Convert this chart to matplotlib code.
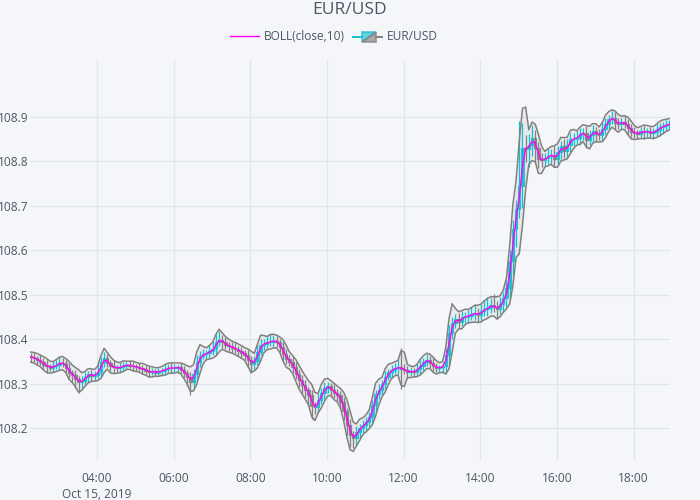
import numpy as np
import pandas as pd
import matplotlib
matplotlib.use("Agg")
import matplotlib.pyplot as plt
import matplotlib.dates as mdates
from matplotlib.patches import Polygon
from matplotlib.lines import Line2D
from matplotlib.legend_handler import HandlerBase
from matplotlib.ticker import FixedLocator, FuncFormatter

# ---------------- data ----------------
title = "EUR/USD"
series_name = "EUR/USD"
boll_name = "BOLL(close,10)"
start_time = "2019-10-15 02:16"
bar_minutes = 5
price_base = 108.0          # prices below are in 0.001 above this base
first_open = 362

close_pips = [
    360, 357, 354, 349, 343, 339, 336, 339, 343, 347,
    346, 336, 325, 320, 310, 303, 307, 315, 321, 318,
    320, 327, 348, 357, 346, 339, 337, 335, 338, 341,
    342, 341, 339, 337, 335, 333, 329, 326, 328, 325,
    328, 329, 333, 336, 335, 336, 337, 332, 324, 316,
    305, 322, 348, 363, 366, 369, 373, 378, 395, 399,
    393, 387, 384, 381, 378, 373, 370, 364, 354, 345,
    352, 372, 388, 390, 393, 395, 397, 393, 383, 368,
    356, 349, 338, 323, 308, 298, 285, 275, 250, 248,
    264, 280, 291, 294, 287, 279, 275, 260, 238, 208,
    184, 178, 192, 201, 208, 214, 226, 252, 276, 286,
    299, 316, 326, 332, 335, 337, 334, 331, 326, 328,
    326, 334, 341, 349, 354, 347, 339, 335, 337, 339,
    365, 415, 437, 446, 439, 449, 451, 453, 456, 459,
    455, 463, 467, 471, 476, 472, 469, 479, 492, 515,
    575, 648, 692, 745, 830, 828, 836, 853, 829, 804,
    802, 807, 811, 815, 806, 820, 834, 822, 837, 849,
    851, 853, 862, 864, 848, 858, 867, 861, 859, 872,
    884, 894, 898, 886, 884, 889, 884, 875, 866, 863,
    862, 867, 865, 867, 863, 866, 871, 876, 879, 882,
    884,
]

# upper wick above max(open, close), in 0.001
wick_up = [
    8, 10, 6, 12, 8, 10, 6, 12, 10, 14,
    12, 8, 10, 6, 12, 8, 10, 12, 8, 10,
    8, 16, 12, 14, 10, 8, 12, 6, 10, 8,
    6, 10, 8, 6, 10, 8, 6, 10, 8, 6,
    8, 6, 10, 8, 12, 8, 6, 10, 8, 6,
    10, 12, 16, 10, 12, 8, 14, 18, 16, 20,
    10, 12, 8, 10, 12, 8, 10, 6, 12, 8,
    10, 16, 12, 10, 14, 18, 12, 10, 8, 10,
    10, 8, 12, 10, 8, 12, 10, 8, 12, 10,
    12, 10, 14, 10, 8, 12, 10, 8, 10, 8,
    12, 10, 14, 8, 10, 12, 10, 12, 10, 14,
    10, 12, 8, 10, 12, 16, 44, 10, 8, 10,
    8, 10, 12, 10, 14, 8, 10, 8, 6, 10,
    16, 18, 12, 10, 12, 14, 10, 12, 16, 20,
    12, 16, 20, 24, 16, 26, 14, 16, 14, 18,
    25, 20, 22, 145, 55, 30, 25, 28, 18, 14,
    14, 12, 18, 12, 20, 14, 12, 16, 12, 14,
    12, 14, 12, 10, 16, 12, 14, 10, 12, 16,
    12, 10, 14, 12, 10, 8, 12, 10, 8, 10,
    8, 10, 12, 8, 10, 8, 12, 10, 8, 10,
    8,
]

# lower wick below min(open, close), in 0.001
wick_dn = [
    10, 8, 12, 6, 10, 14, 8, 10, 6, 12,
    8, 10, 12, 16, 20, 24, 12, 8, 10, 12,
    10, 8, 12, 10, 8, 10, 12, 8, 10, 6,
    8, 6, 10, 8, 6, 12, 8, 10, 6, 8,
    6, 10, 8, 6, 10, 8, 12, 8, 12, 20,
    30, 16, 12, 10, 8, 12, 10, 8, 12, 10,
    12, 8, 10, 12, 8, 10, 12, 10, 16, 20,
    12, 10, 8, 12, 10, 8, 12, 10, 12, 16,
    12, 10, 14, 12, 16, 20, 18, 24, 28, 16,
    12, 10, 14, 12, 16, 10, 14, 16, 20, 24,
    25, 22, 16, 14, 12, 16, 10, 14, 12, 10,
    12, 10, 8, 12, 10, 12, 46, 10, 12, 8,
    10, 8, 12, 10, 8, 12, 10, 8, 10, 12,
    16, 20, 14, 12, 16, 10, 12, 14, 10, 12,
    16, 12, 10, 14, 12, 10, 24, 12, 16, 20,
    24, 30, 40, 20, 50, 30, 40, 24, 30, 20,
    16, 12, 14, 18, 20, 12, 16, 14, 12, 16,
    14, 12, 16, 14, 18, 12, 14, 16, 12, 14,
    12, 14, 10, 16, 12, 14, 10, 16, 12, 10,
    12, 10, 14, 12, 10, 12, 10, 14, 12, 10,
    12,
]

y_ticks = [108.2, 108.3, 108.4, 108.5, 108.6, 108.7, 108.8, 108.9]
x_tick_times = ["04:00", "06:00", "08:00", "10:00", "12:00", "14:00", "16:00", "18:00"]
date_label = "Oct 15, 2019"
x_range = ("2019-10-15 02:15", "2019-10-15 18:57")
y_range = (108.1288, 109.0274)
boll_window = "10min"
boll_k = 1.6

# ---------------- styles ----------------
BG = "#F5F6F9"
GRID = "#E1E5ED"
TXT = "#4D5663"
INC = "#17BECF"
DEC = "#808080"
BAND = "#808080"
MID = "#FF00FF"
FONT = ["Open Sans", "DejaVu Sans"]
plt.rcParams["font.family"] = FONT

n = min(len(close_pips), len(wick_up), len(wick_dn))
times = pd.date_range(start_time, periods=n, freq=f"{bar_minutes}min")
close = price_base + np.array(close_pips[:n]) / 1000.0
opn = np.concatenate([[price_base + first_open / 1000.0], close[:-1]])
high = np.maximum(opn, close) + np.array(wick_up[:n]) / 1000.0
low = np.minimum(opn, close) - np.array(wick_dn[:n]) / 1000.0
df = pd.DataFrame({"open": opn, "high": high, "low": low, "close": close}, index=times)

# Bollinger band over a 10-minute window
mid = df["close"].rolling(boll_window).mean()
win = pd.Timedelta(boll_window)
sd = []
for i, t in enumerate(df.index):
    sub = df[(df.index > t - win) & (df.index <= t)]
    sd.append(sub[["open", "high", "low", "close"]].values.ravel().std())
sd = pd.Series(sd, index=df.index)
upper = mid + boll_k * sd
lower = mid - boll_k * sd

# ---------------- figure ----------------
fig = plt.figure(figsize=(7, 5), dpi=100, facecolor=BG)
ax = fig.add_axes([30 / 700, 1 - 460 / 500, 640 / 700, 400 / 500], facecolor=BG)
for s in ax.spines.values():
    s.set_visible(False)

xn = mdates.date2num(df.index.to_pydatetime())
bw = bar_minutes / 1440.0 * 0.75

# band fill
ax.fill_between(xn, lower.values, upper.values, color=BAND, alpha=0.10, lw=0, zorder=1)

# candles
inc = df["close"].values > df["open"].values
for m, col in ((inc, INC), (~inc, DEC)):
    ax.vlines(xn[m], df["low"].values[m], df["high"].values[m], color=col, lw=0.9, zorder=2)
    bottoms = np.minimum(df["open"].values[m], df["close"].values[m])
    heights = np.abs(df["close"].values[m] - df["open"].values[m])
    ax.bar(xn[m], heights, bottom=bottoms, width=bw, color=col, alpha=0.85,
           edgecolor=col, linewidth=0.9, zorder=3)

# band lines + middle
ax.plot(xn, upper.values, color=BAND, lw=1.1, zorder=4)
ax.plot(xn, lower.values, color=BAND, lw=1.1, zorder=4)
ax.plot(xn, mid.values, color=MID, lw=1.0, zorder=5)

# axes
ax.set_xlim(mdates.date2num(pd.Timestamp(x_range[0])), mdates.date2num(pd.Timestamp(x_range[1])))
ax.set_ylim(*y_range)
ax.yaxis.set_major_locator(FixedLocator(y_ticks))
ax.yaxis.set_major_formatter(FuncFormatter(lambda v, p: f"{v:.1f}"))
xt = [mdates.date2num(pd.Timestamp(f"2019-10-15 {s}")) for s in x_tick_times]
ax.set_xticks(xt)
ax.set_xticklabels([x_tick_times[0] + "\n" + date_label] + x_tick_times[1:], linespacing=1.25)
ax.grid(True, color=GRID, lw=0.9, zorder=0)
ax.set_axisbelow(True)
ax.tick_params(axis="both", length=0, labelsize=8.6, colors=TXT)
ax.tick_params(axis="x", pad=9)
ax.tick_params(axis="y", pad=1.0)

fig.text(0.5, 1 - 10 / 500, title, ha="center", va="center", fontsize=12.5, color=TXT)


class CandleHandle:
    pass


class CandleHandler(HandlerBase):
    def create_artists(self, legend, orig_handle, xdescent, ydescent, width, height, fontsize, trans):
        x0, y0 = -xdescent, -ydescent
        w, h = width, height
        bx0, bx1 = x0 + 0.3 * w, x0 + 0.78 * w
        by0, by1 = y0 - 0.15 * h, y0 + 1.05 * h
        ym = (by0 + by1) / 2
        t1 = Polygon([[bx0, by0], [bx0, by1], [bx1, by1]], closed=True, facecolor=INC,
                     alpha=0.65, edgecolor=INC, lw=1.4, transform=trans)
        t2 = Polygon([[bx0, by0], [bx1, by0], [bx1, by1]], closed=True, facecolor=DEC,
                     alpha=0.65, edgecolor=DEC, lw=1.4, transform=trans)
        l1 = Line2D([x0, bx0], [ym, ym], color=INC, lw=1.4, transform=trans)
        l2 = Line2D([bx1, x0 + w], [ym, ym], color=DEC, lw=1.4, transform=trans)
        return [l1, l2, t1, t2]


h1 = Line2D([], [], color=MID, lw=1.0)
h2 = CandleHandle()
leg = fig.legend([h1, h2], [boll_name, series_name], handler_map={CandleHandle: CandleHandler()},
                 loc="center", bbox_to_anchor=(334 / 700, 1 - 37 / 500), ncol=2, frameon=False,
                 fontsize=8.6, handlelength=2.4, handletextpad=0.4, columnspacing=0.7)
for tx in leg.get_texts():
    tx.set_color(TXT)

fig.savefig("out.png", dpi=100, facecolor=BG)
